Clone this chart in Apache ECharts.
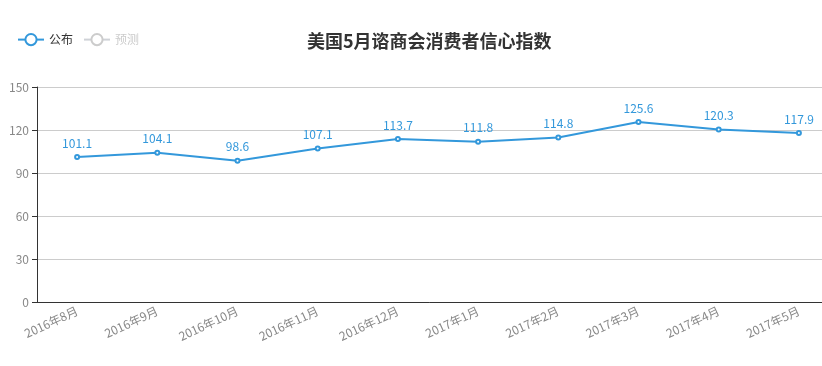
<!DOCTYPE html>
<html><head><meta charset="utf-8">
<script src="https://cdn.jsdelivr.net/npm/echarts@6/dist/echarts.min.js"></script>
<style>html,body{margin:0;padding:0;background:#fff}#c{width:822px;height:366px}</style>
</head><body><div id="c"></div>
<script>
const categories = ['2016年8月','2016年9月','2016年10月','2016年11月','2016年12月','2017年1月','2017年2月','2017年3月','2017年4月','2017年5月'];
const published = [101.1,104.1,98.6,107.1,113.7,111.8,114.8,125.6,120.3,117.9];
const forecast = [];
const yTicks = {min:0, max:150, interval:30};
const chart = echarts.init(document.getElementById('c'));
chart.setOption({
  textStyle:{fontFamily:'"Noto Sans CJK SC", sans-serif'},
  title:{text:'美国5月谘商会消费者信心指数', left:302, top:27, textStyle:{fontSize:18, fontWeight:'bold', color:'#333', fontFamily:'"Noto Sans CJK SC", sans-serif'}},
  legend:{left:12, top:28, itemWidth:26, itemHeight:14, itemGap:10, data:['公布','预测'], selected:{'预测':false}, inactiveColor:'#ccc', textStyle:{fontSize:12, color:'#333'}},
  grid:{left:37, width:802, top:87, height:215, containLabel:false, outerBoundsMode:'none'},
  xAxis:{type:'category', data:categories, boundaryGap:true,
    axisLine:{lineStyle:{color:'#333'}}, axisTick:{lineStyle:{color:'#333'}},
    axisLabel:{rotate:25, color:'#888', fontSize:12, interval:0}},
  yAxis:{type:'value', min:yTicks.min, max:yTicks.max, interval:yTicks.interval,
    axisLine:{show:true, lineStyle:{color:'#333'}}, axisTick:{show:true, lineStyle:{color:'#333'}},
    axisLabel:{color:'#888', fontSize:12},
    splitLine:{lineStyle:{color:'#ccc'}}},
  series:[
    {name:'公布', type:'line', data:published, symbol:'emptyCircle', symbolSize:4, itemStyle:{color:'#3398DB'}, lineStyle:{width:2, color:'#3398DB'},
      label:{show:true, position:'top', color:'#3398DB', fontSize:12}},
    {name:'预测', type:'line', data:forecast, symbol:'emptyCircle', itemStyle:{color:'#3398DB'}}
  ]
});
</script></body></html>
